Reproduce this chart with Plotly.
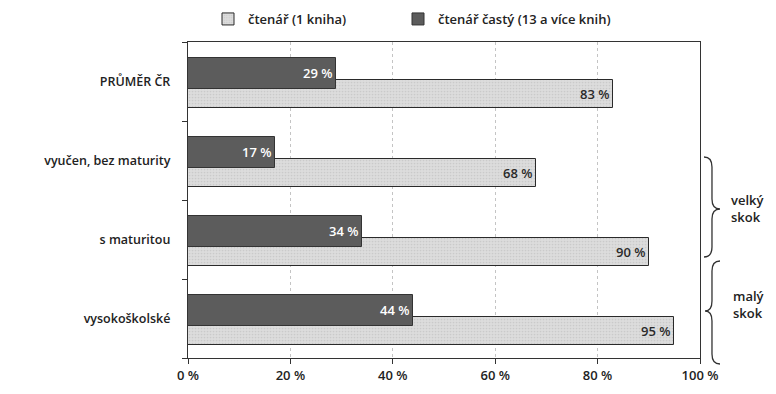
import plotly.graph_objects as go

categories = ["PRŮMĚR ČR", "vyučen, bez maturity", "s maturitou", "vysokoškolské"]
reader_one = [83, 68, 90, 95]
reader_frequent = [29, 17, 34, 44]
series_names = ["čtenář (1 kniha)", "čtenář častý (13 a více knih)"]
x_ticks = [0, 20, 40, 60, 80, 100]
x_tick_labels = [f"{v} %" for v in x_ticks]

# page body has an 8px margin; figure sized to fit the 776x394 window
OFF = 8
W, H = 776 - 2 * OFF, 394 - 2 * OFF
PL, PR, PT, PB = 188, 700, 42, 358          # plot area in window pixels
L, R, T, B = PL - OFF, W - (PR - OFF), PT - OFF, H - (PB - OFF)
FONT = "Open Sans"

ypos = list(range(len(categories)))

fig = go.Figure()
fig.add_trace(go.Bar(
    y=ypos, x=reader_one, orientation="h", name=series_names[0], legend="legend",
    width=0.36, offset=-0.02,
    marker=dict(color="#dadada", line=dict(color="#2a2a2a", width=1),
                pattern=dict(shape=".", fgcolor="#b8b8b8", bgcolor="#dcdcdc", size=3, solidity=0.25)),
    text=[f"{v} %" for v in reader_one], textposition="inside", insidetextanchor="end",
    textfont=dict(family=FONT, size=13, color="#2a2a2a", weight=600),
    cliponaxis=False,
))
fig.add_trace(go.Bar(
    y=ypos, x=reader_frequent, orientation="h", name=series_names[1], legend="legend2",
    width=0.39, offset=-0.30,
    marker=dict(color="#5c5c5c", line=dict(color="#333333", width=1)),
    text=[f"{v} %" for v in reader_frequent], textposition="inside", insidetextanchor="end",
    textfont=dict(family=FONT, size=13, color="#ffffff", weight=600),
    cliponaxis=False,
))

def px2paper(x, y):
    # x, y in window pixels
    return ((x - PL) / (PR - PL), (PB - y) / (PB - PT))

def path(points):
    out = []
    for cmd, pts in points:
        coords = " ".join("%.4f,%.4f" % px2paper(*p) for p in pts)
        out.append(cmd + " " + coords)
    return " ".join(out)

brace_big = path([
    ("M", [(704, 157)]), ("Q", [(712, 157), (712, 167)]), ("L", [(712, 199)]),
    ("Q", [(712, 209), (720, 209)]), ("Q", [(712, 209), (712, 219)]),
    ("L", [(712, 247)]), ("Q", [(712, 257), (704, 257)]),
])
brace_small = path([
    ("M", [(720, 261)]), ("Q", [(712, 261), (712, 271)]), ("L", [(712, 301)]),
    ("Q", [(712, 311), (705, 311)]), ("Q", [(712, 311), (712, 321)]),
    ("L", [(712, 354)]), ("Q", [(712, 364), (720, 364)]),
])
for p in (brace_big, brace_small):
    fig.add_shape(type="path", path=p, xref="paper", yref="paper",
                  line=dict(color="#333333", width=1.3))

for txt, (px, py) in [("velký<br>skok", (747, 208)), ("malý<br>skok", (748, 304))]:
    ax, ay = px2paper(px, py)
    fig.add_annotation(text=txt, x=ax, y=ay, xref="paper", yref="paper", showarrow=False,
                       xanchor="center", yanchor="middle", align="left",
                       font=dict(family=FONT, size=13, color="#222222", weight=600))

legend_style = dict(orientation="h", xanchor="left", yanchor="middle",
                    font=dict(family=FONT, size=13, color="#222222", weight=600),
                    itemwidth=30)
lx1, ly = px2paper(208, 19)
lx2, _ = px2paper(398, 19)
fig.update_layout(
    width=W, height=H, margin=dict(l=L, r=R, t=T, b=B, autoexpand=False),
    paper_bgcolor="white", plot_bgcolor="white",
    barmode="overlay", bargap=0,
    font=dict(family=FONT, size=13, color="#222222"),
    showlegend=True,
    legend=dict(x=lx1, y=ly, **legend_style),
    legend2=dict(x=lx2, y=ly, **legend_style),
    xaxis=dict(range=[0, 100], tickvals=x_ticks, ticktext=x_tick_labels, automargin=False,
               showgrid=True, gridcolor="#c4c4c4", griddash="dot", gridwidth=1,
               showline=True, linecolor="#333333", linewidth=1.3, mirror=True,
               ticks="outside", ticklen=5, tickcolor="#333333",
               tickfont=dict(family=FONT, size=13, color="#222222", weight=600),
               zeroline=False, fixedrange=True),
    yaxis=dict(range=[3.5, -0.5], tickvals=ypos, ticktext=categories, automargin=False,
               showgrid=False, zeroline=False,
               showline=True, linecolor="#333333", linewidth=1.3, mirror=True,
               ticks="", ticklabelstandoff=14,
               tickfont=dict(family=FONT, size=12.5, color="#222222", weight=600),
               minor=dict(tickvals=[-0.5, 0.5, 1.5, 2.5, 3.5], ticks="outside", ticklen=5,
                          tickcolor="#333333", showgrid=False),
               fixedrange=True),
)

fig.write_html("out.html")
